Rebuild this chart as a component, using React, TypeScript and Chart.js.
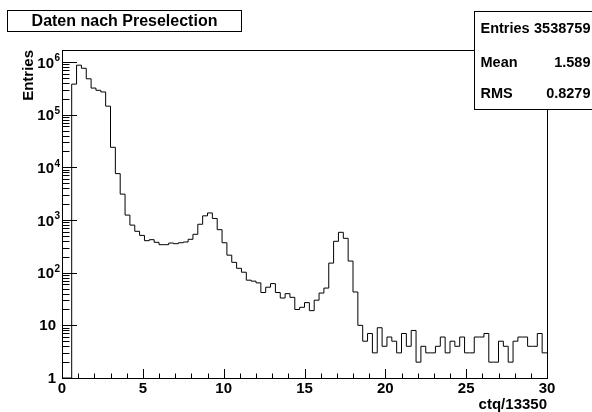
import React, { useEffect, useRef } from "react";
import { Chart, registerables } from "chart.js";

Chart.register(...registerables);

// Histogram binning: 100 bins of width 0.3 over [0, 30]
const binWidth = 0.3;
const xMin = 0;
const xMax = 30;
const yMin = 1;
const yMax = 1.69e6;

// Bin contents, left to right
const countsLow = [
  0, 0, 380000, 870000, 760000, 480000, 320000, 290000, 270000, 145000,
  24000, 7600, 3100, 1240, 800, 610, 510, 405, 423, 377,
];
const countsMid = [
  340, 340, 365, 355, 370, 382, 430, 535, 830, 1200,
  1360, 1070, 655, 370, 215, 157, 121, 102, 72, 69,
];
const countsHigh = [
  64, 42, 53, 62, 42, 33, 40, 34, 20, 22,
  27, 19, 30, 41, 51, 152, 394, 584, 449, 166,
  43,
];
const countsTail = [
  10, 5, 7, 3, 9, 4, 6, 5, 3, 7,
  4, 8, 2, 4, 3, 3, 4, 6, 3, 5,
  4, 6, 3, 3, 6, 6, 7, 2, 2, 5,
  4, 2, 5, 6, 6, 4, 4, 7, 3,
];

const xTickValues = [0, 5, 10, 15, 20, 25, 30];
const yDecades = [0, 1, 2, 3, 4, 5, 6];

const histTitle = "Daten nach Preselection";
const statsRows = [
  ["Entries", "3538759"],
  ["Mean", "1.589"],
  ["RMS", "0.8279"],
];
const xTitle = "ctq/13350";
const yTitle = "Entries";

const FONT = '"Liberation Sans", Arial, Helvetica, sans-serif';

const rootDecor = {
  id: "rootDecor",
  afterDraw(chart: any) {
    const { ctx, chartArea: a, scales } = chart;
    const xs = scales.x;
    const ys = scales.y;
    const snap = (v: number) => Math.round(v) + 0.5;
    ctx.save();
    ctx.strokeStyle = "#000";
    ctx.lineWidth = 1;

    // frame
    ctx.strokeRect(snap(a.left), snap(a.top), Math.round(a.right) - Math.round(a.left), Math.round(a.bottom) - Math.round(a.top));

    // x ticks (inward): major every 5, minor every 1
    ctx.beginPath();
    for (let v = xMin; v <= xMax; v += 1) {
      const px = snap(xs.getPixelForValue(v));
      const len = v % 5 === 0 ? 9 : 4.5;
      ctx.moveTo(px, a.bottom);
      ctx.lineTo(px, a.bottom - len);
    }
    // y ticks (inward): decades and 2..9 subdivisions
    for (const d of yDecades) {
      for (let m = 1; m <= 9; m++) {
        const v = m * Math.pow(10, d);
        if (v > yMax) break;
        const py = snap(ys.getPixelForValue(v));
        const len = m === 1 ? 15 : 7.5;
        ctx.moveTo(a.left, py);
        ctx.lineTo(a.left + len, py);
      }
    }
    ctx.stroke();

    // y tick labels with exponents
    ctx.fillStyle = "#000";
    ctx.textBaseline = "middle";
    for (const d of yDecades) {
      const py = ys.getPixelForValue(Math.pow(10, d));
      if (d < 2) {
        ctx.font = `bold 15px ${FONT}`;
        ctx.textAlign = "right";
        ctx.fillText(d === 0 ? "1" : "10", a.left - 6, py + 0.5);
      } else {
        ctx.font = `bold 15px ${FONT}`;
        ctx.textAlign = "right";
        ctx.fillText("10", a.left - 8, py + 1.5);
        ctx.font = `bold 10px ${FONT}`;
        ctx.textAlign = "left";
        ctx.fillText(String(d), a.left - 7.5, py - 3.5);
      }
    }

    // title box
    ctx.fillStyle = "#fff";
    ctx.fillRect(7.5, 10.5, 234, 21);
    ctx.strokeRect(7.5, 10.5, 234, 21);
    ctx.fillStyle = "#000";
    ctx.font = `bold 16px ${FONT}`;
    ctx.textAlign = "center";
    ctx.textBaseline = "middle";
    ctx.fillText(histTitle, 124.5, 21.5);

    // statistics box
    ctx.fillStyle = "#fff";
    ctx.fillRect(474.5, 11.5, 130, 98);
    ctx.strokeRect(474.5, 11.5, 130, 98);
    ctx.fillStyle = "#000";
    ctx.font = `bold 14.5px ${FONT}`;
    ctx.textBaseline = "alphabetic";
    const baselines = [33.3, 66.5, 98.3];
    statsRows.forEach(([k, v], i) => {
      ctx.textAlign = "left";
      ctx.fillText(k, 480.5, baselines[i]);
      ctx.textAlign = "right";
      ctx.fillText(v, 590.5, baselines[i]);
    });
    ctx.restore();
  },
};

export default function App() {
  const canvasRef = useRef<HTMLCanvasElement | null>(null);

  useEffect(() => {
    const counts = [...countsLow, ...countsMid, ...countsHigh, ...countsTail];
    const points = counts.map((c, i) => ({
      x: xMin + i * binWidth,
      y: c > 0 ? c : yMin,
    }));
    points.push({ x: xMax, y: counts[counts.length - 1] });

    const chart = new Chart(canvasRef.current as HTMLCanvasElement, {
      type: "line",
      data: {
        datasets: [
          {
            data: points,
            borderColor: "#000",
            borderWidth: 1,
            pointRadius: 0,
            fill: false,
            stepped: "before",
            tension: 0,
          },
        ],
      },
      options: {
        animation: false,
        responsive: false,
        devicePixelRatio: 1,
        layout: { padding: { left: 0, right: 45, top: 50, bottom: 0 } },
        plugins: {
          legend: { display: false },
          title: { display: false },
          tooltip: { enabled: false },
        },
        scales: {
          x: {
            type: "linear",
            min: xMin,
            max: xMax,
            afterBuildTicks: (scale: any) => {
              scale.ticks = xTickValues.map((v) => ({ value: v }));
            },
            afterFit: (scale: any) => {
              scale.height = 34;
            },
            grid: { display: false, drawTicks: false },
            border: { display: false },
            ticks: {
              autoSkip: false,
              maxRotation: 0,
              padding: 2,
              color: "#000",
              font: { family: FONT, size: 15, weight: "bold" },
            },
            title: {
              display: true,
              text: xTitle,
              align: "end",
              color: "#000",
              padding: { top: 0, bottom: 0 },
              font: { family: FONT, size: 15, weight: "bold", lineHeight: 1 },
            },
          },
          y: {
            type: "logarithmic",
            min: yMin,
            max: yMax,
            afterFit: (scale: any) => {
              scale.width = 62;
            },
            grid: { display: false, drawTicks: false },
            border: { display: false },
            ticks: { display: false },
            title: {
              display: true,
              text: yTitle,
              align: "end",
              color: "#000",
              padding: { top: 21, bottom: 0 },
              font: { family: FONT, size: 15, weight: "bold", lineHeight: 1 },
            },
          },
        },
      },
      plugins: [rootDecor],
    } as any);

    return () => chart.destroy();
  }, []);

  return (
    <div style={{ position: "absolute", left: 0, top: 0, width: 592, height: 412, background: "#fff" }}>
      <canvas ref={canvasRef} width={592} height={412} style={{ display: "block", width: 592, height: 412 }} />
    </div>
  );
}
